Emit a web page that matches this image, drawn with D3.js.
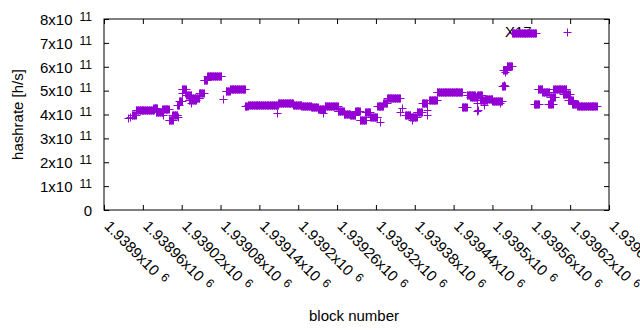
<!DOCTYPE html>
<html>
<head>
<meta charset="utf-8">
<script src="https://cdn.jsdelivr.net/npm/d3@7"></script>
<style>
  body { margin: 0; background: #fff; }
  text { font-family: "Liberation Sans", Arial, sans-serif; fill: #000; }
</style>
</head>
<body>
<svg class="chart"></svg>
<script>
// data: runs of blocks with the same hashrate (h/s)
var runFrom = [1938943,1938949,1938976,1938980,1938990,1939000,1939005,1939013,1939016,1939020,
  1939027,1939031,1939036,1939047,1939054,1939059,1939088,1939094,1939118,1939122,
  1939169,1939192,1939205,1939220,1939230,1939241,1939261,1939270,1939280,1939288,
  1939295,1939303,1939311,1939322,1939331,1939337,1939365,1939373,1939383,1939391,
  1939402,1939414,1939453,1939460,1939466,1939476,1939481,1939489,1939500,1939515,
  1939517,1939522,1939530,1939564,1939570,1939577,1939586,1939589,1939594,1939609,
  1939617,1939623,1939631];
var runTo = [1938949,1938977,1938982,1938990,1939000,1939006,1939013,1939016,1939020,1939026,
  1939035,1939042,1939047,1939054,1939059,1939081,1939094,1939118,1939122,1939168,
  1939192,1939205,1939220,1939230,1939241,1939261,1939270,1939280,1939288,1939295,
  1939304,1939311,1939322,1939331,1939337,1939357,1939373,1939383,1939391,1939399,
  1939414,1939453,1939460,1939473,1939476,1939484,1939492,1939500,1939514,1939519,
  1939522,1939530,1939567,1939572,1939577,1939588,1939593,1939596,1939614,1939619,
  1939624,1939632,1939661];
var runRate = [3.97e11,4.2e11,4.28e11,4.12e11,4.23e11,3.78e11,4.0e11,4.4e11,4.58e11,5.05e11,
  4.8e11,4.62e11,4.7e11,4.9e11,5.45e11,5.6e11,4.98e11,5.08e11,4.35e11,4.4e11,
  4.47e11,4.4e11,4.34e11,4.3e11,4.22e11,4.35e11,4.15e11,4.02e11,3.98e11,4.15e11,
  3.75e11,4.1e11,3.9e11,4.35e11,4.5e11,4.7e11,4.0e11,3.9e11,4.1e11,4.5e11,
  4.6e11,4.95e11,4.3e11,4.8e11,4.75e11,4.8e11,4.6e11,4.65e11,4.55e11,5.2e11,
  5.85e11,6.05e11,7.4e11,4.45e11,5.05e11,4.95e11,4.45e11,4.75e11,5.05e11,4.85e11,
  4.6e11,4.45e11,4.36e11];

// single outlying blocks
var singleBlock = [1938937,1938940,1938991,1939014,1939021,1939025,1939035,1939084,1939167,1939238,
  1939326,1939357,1939360,1939376,1939399,1939399,1939476,1939476,1939478,1939487,
  1939511,1939518,1939519,1939615];
var singleRate = [3.85e11,3.88e11,3.98e11,3.9e11,4.9e11,4.9e11,4.5e11,4.65e11,4.05e11,4.05e11,
  3.7e11,4.1e11,4.27e11,3.77e11,4.2e11,4.0e11,4.5e11,4.15e11,4.2e11,4.4e11,
  4.5e11,5.25e11,5.8e11,7.45e11];

var xTickValues = [1938900,1938960,1939020,1939080,1939140,1939200,1939260,
  1939320,1939380,1939440,1939500,1939560,1939620,1939680];
var yTickValues = [0,1e11,2e11,3e11,4e11,5e11,6e11,7e11,8e11];

// chart
var width = 640;
var height = 330;
var margin = {left: 104, right: 31, top: 19, bottom: 120};
var color = '#9400d3';

var chart = d3.select('.chart')
    .attr('width', width)
    .attr('height', height);

var x = d3.scaleLinear()
    .domain([1938900, 1939680])
    .range([margin.left, width - margin.right]);

var y = d3.scaleLinear()
    .domain([0, 8e11])
    .range([height - margin.bottom, margin.top]);

var points = [];
runFrom.forEach(function(f, i) {
  for (var b = f; b <= runTo[i]; b++) points.push({block: b, rate: runRate[i]});
});
singleBlock.forEach(function(b, i) {
  points.push({block: b, rate: singleRate[i]});
});

// label behind the points
chart.append('text')
    .attr('x', 505)
    .attr('y', 37)
    .style('font-size', '15px')
    .text('X17');

// axes
function xLabel(v) { return +(v / 1e6).toFixed(5) + 'x10'; }

var xAxis = chart.append('g')
    .attr('transform', 'translate(0,' + (height - margin.bottom) + ')')
    .call(d3.axisBottom(x).tickValues(xTickValues).tickSizeInner(-5).tickSizeOuter(0));

xAxis.selectAll('.tick text').each(function(d) {
  var t = d3.select(this)
      .attr('x', null).attr('y', null).attr('dy', null)
      .attr('transform', 'translate(-1,17) rotate(45)')
      .style('text-anchor', 'start')
      .style('font-size', '15px')
      .text(xLabel(d));
  t.append('tspan').attr('dx', 6).attr('dy', -4).style('font-size', '12px').text('6');
});

var yAxis = chart.append('g')
    .attr('transform', 'translate(' + margin.left + ',0)')
    .call(d3.axisLeft(y).tickValues(yTickValues).tickSizeInner(-5).tickSizeOuter(0).tickPadding(12));

yAxis.selectAll('.tick text').each(function(d) {
  var t = d3.select(this)
      .attr('dy', '0.35em')
      .style('font-size', '15px')
      .text(d === 0 ? '0' : (d / 1e11) + 'x10');
  if (d !== 0) t.append('tspan').attr('dx', 7).attr('dy', -4).style('font-size', '12px').text('11');
});

// mirrored ticks on top and right
chart.append('g')
    .attr('transform', 'translate(0,' + margin.top + ')')
    .call(d3.axisTop(x).tickValues(xTickValues).tickSizeInner(-5).tickSizeOuter(0).tickFormat(''));
chart.append('g')
    .attr('transform', 'translate(' + (width - margin.right) + ',0)')
    .call(d3.axisRight(y).tickValues(yTickValues).tickSizeInner(-5).tickSizeOuter(0).tickFormat(''));

chart.selectAll('.domain').remove();
chart.selectAll('.tick line').attr('stroke', '#000');

chart.append('rect')
    .attr('x', margin.left)
    .attr('y', margin.top)
    .attr('width', width - margin.left - margin.right)
    .attr('height', height - margin.top - margin.bottom)
    .attr('fill', 'none')
    .attr('stroke', '#000');

// points (gnuplot "+"), snapped to pixel centres so they stay crisp
chart.append('g').selectAll('.pt')
    .data(points)
  .enter().append('path')
    .attr('class', 'pt')
    .attr('transform', function(d) {
      return 'translate(' + (Math.round(x(d.block)) + 0.5) + ',' + (Math.round(y(d.rate)) + 0.5) + ')';
    })
    .attr('d', 'M-4,0H4M0,-4V4')
    .attr('stroke', color)
    .attr('stroke-width', 1)
    .attr('fill', 'none');

// axis titles
chart.append('text')
    .attr('transform', 'translate(23,' + (margin.top + (height - margin.top - margin.bottom) / 2) + ') rotate(-90)')
    .style('text-anchor', 'middle')
    .style('font-size', '15px')
    .text('hashrate [h/s]');

chart.append('text')
    .attr('x', 354)
    .attr('y', 321)
    .style('text-anchor', 'middle')
    .style('font-size', '15px')
    .text('block number');
</script>
</body>
</html>
